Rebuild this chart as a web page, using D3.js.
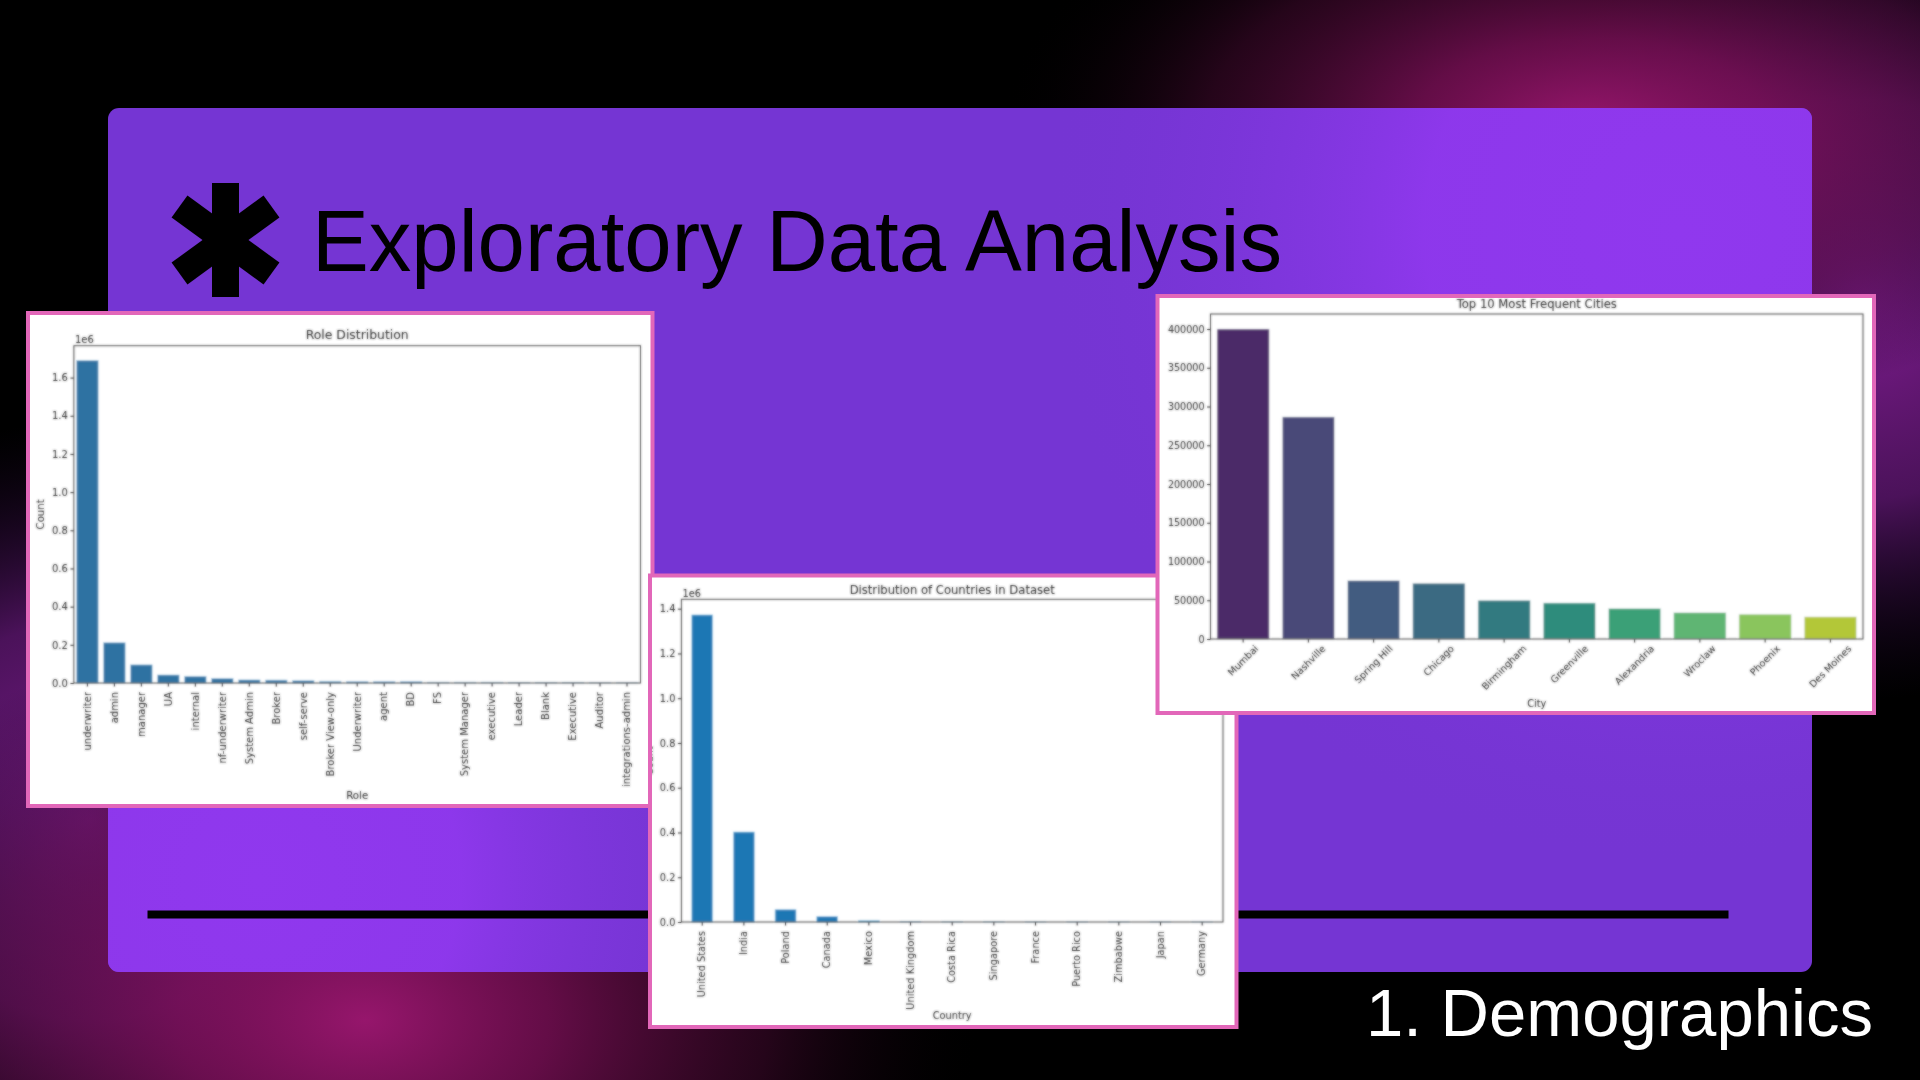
<!DOCTYPE html>
<html><head><meta charset="utf-8">
<script src="https://cdn.jsdelivr.net/npm/d3@7"></script>
<style>html,body{margin:0;padding:0;background:#000;overflow:hidden}svg{display:block}</style>
</head><body><svg id="s" width="1920" height="1080"></svg>
<script>
const roles = ["underwriter","admin","manager","UA","internal","nf-underwriter","System Admin","Broker","self-serve","Broker View-only","Underwriter","agent","BD","FS","System Manager","executive","Leader","Blank","Executive","Auditor","integrations-admin"];
const roleCounts = [1690000,211000,95000,42000,35000,24000,16000,15000,12000,9000,8000,8000,8000,4000,4000,4000,3000,3000,3000,1000,1000];
const countries = ["United States","India","Poland","Canada","Mexico","United Kingdom","Costa Rica","Singapore","France","Puerto Rico","Zimbabwe","Japan","Germany"];
const countryCounts = [1372000,402000,55000,24000,6000,1000,500,400,300,300,200,200,100];
const cities = ["Mumbai","Nashville","Spring Hill","Chicago","Birmingham","Greenville","Alexandria","Wroclaw","Phoenix","Des Moines"];
const cityCounts = [400000,286500,75500,72000,50000,46500,39500,34000,32000,28500];
const cityColors = ["#4B2C67","#4A4A78","#425B80","#3A6B82","#327A80","#2E8C7C","#3AA077","#5EB573","#8AC55D","#B3C737"];
const millionTicks1 = [0,200000,400000,600000,800000,1000000,1200000,1400000,1600000];
const millionTicks2 = [0,200000,400000,600000,800000,1000000,1200000,1400000];
const cityTicks = [0,50000,100000,150000,200000,250000,300000,350000,400000];

const svg = d3.select("#s");
const defs = svg.append("defs");
function radial(id,cx,cy,r,stops,tr){
  const g = defs.append("radialGradient").attr("id",id).attr("gradientUnits","userSpaceOnUse")
    .attr("cx",cx).attr("cy",cy).attr("r",r);
  if(tr) g.attr("gradientTransform",tr);
  stops.forEach(s=>g.append("stop").attr("offset",s[0]).attr("stop-color",s[1]).attr("stop-opacity",s[2]));
}
const mag=[[0,"#96166c",1],[.3,"#7c1058",.8],[.65,"#4a0a34",.5],[1,"#000",0]];
const pur=[[0,"#7e1c8e",1],[.5,"#641878",.75],[1,"#200830",0]];
radial("gPurTR",1860,300,400,pur);
radial("gPurBL",90,820,400,pur);
radial("gMagTR",1590,125,1,mag,"translate(1590 125) scale(590 290) translate(-1590 -125)");
radial("gMagBL",365,1020,1,mag,"translate(365 1020) scale(620 400) translate(-365 -1020)");
const bright=[[0,"#9038ee",1],[.4,"#9038ee",.9],[1,"#7535d3",0]];
radial("gCardTR",1680,230,640,bright);
radial("gCardBL",260,880,500,bright);
const soft = defs.append("filter").attr("id","soft").attr("x","-2%").attr("y","-2%").attr("width","104%").attr("height","104%");
soft.append("feGaussianBlur").attr("in","SourceGraphic").attr("stdDeviation",0.8).attr("result","b");
soft.append("feComposite").attr("in","b").attr("in2","SourceGraphic").attr("operator","arithmetic")
  .attr("k1",0).attr("k2",0.7).attr("k3",0.3).attr("k4",0);

svg.append("rect").attr("width",1920).attr("height",1080).attr("fill","#000");
["gPurTR","gPurBL","gMagTR","gMagBL"].forEach(id=>
  svg.append("rect").attr("width",1920).attr("height",1080).attr("fill",`url(#${id})`));
["#7535d3","url(#gCardTR)","url(#gCardBL)"].forEach(f=>
  svg.append("rect").attr("x",108).attr("y",108).attr("width",1704).attr("height",864).attr("rx",11).attr("fill",f));
svg.append("rect").attr("x",147.5).attr("y",910.5).attr("width",1581).attr("height",8).attr("fill","#000");

// asterisk
const star = svg.append("g").attr("transform","translate(225.5 240)").attr("stroke","#000").attr("stroke-width",27);
[[0,-57,0,57],[-46,-33.5,46,33.5],[-46,33.5,46,-33.5]].forEach(l=>
  star.append("line").attr("x1",l[0]).attr("y1",l[1]).attr("x2",l[2]).attr("y2",l[3]));

svg.append("text").attr("x",312).attr("y",270.5).attr("font-family","Liberation Sans")
  .attr("font-size",86.6).attr("fill","#000").attr("textLength",970).attr("lengthAdjust","spacingAndGlyphs").text("Exploratory Data Analysis");
svg.append("text").attr("x",1366).attr("y",1036).attr("font-family","Liberation Sans")
  .attr("font-size",66.6).attr("fill","#fff").attr("textLength",507).attr("lengthAdjust","spacingAndGlyphs").text("1. Demographics");

const FONT="DejaVu Sans", INK="#222";
function chart(o){
  const root = svg.append("g");
  const [fx0,fy0,fx1,fy1]=o.frame;
  root.append("rect").attr("x",fx0+2).attr("y",fy0+2).attr("width",fx1-fx0-4).attr("height",fy1-fy0-4)
    .attr("fill","#fff").attr("stroke","#E267B9").attr("stroke-width",4);
  const clipId=o.id+"clip";
  defs.append("clipPath").attr("id",clipId).append("rect")
    .attr("x",fx0+4).attr("y",fy0+4).attr("width",fx1-fx0-8).attr("height",fy1-fy0-8);
  const g = root.append("g").attr("clip-path",`url(#${clipId})`).append("g").attr("filter","url(#soft)");
  const [l,t,r,b]=o.axes;
  const x = d3.scaleBand().domain(o.cats).range([l,r]).paddingInner(o.pad).paddingOuter(o.pad/2);
  const y = d3.scaleLinear().domain([0,o.top]).range([b,t]);
  g.selectAll("rect.bar").data(o.vals).join("rect").attr("class","bar")
    .attr("x",(d,i)=>x(o.cats[i])).attr("width",x.bandwidth())
    .attr("y",d=>y(d)).attr("height",d=>b-y(d))
    .attr("fill",(d,i)=>o.colors?o.colors[i]:o.color)
    .attr("stroke",o.edge).attr("stroke-width",.8);
  const ax = g.append("g").attr("transform",`translate(0,${b})`).call(d3.axisBottom(x).tickSize(3.5).tickSizeOuter(0));
  const ay = g.append("g").attr("transform",`translate(${l},0)`).call(d3.axisLeft(y).tickValues(o.ticks).tickFormat(o.fmt).tickSize(3.5).tickSizeOuter(0));
  [ax,ay].forEach(a=>{a.select(".domain").remove();
    a.selectAll("line").attr("stroke",INK).attr("stroke-width",1);
    a.selectAll("text").attr("font-family",FONT).attr("font-size",o.fs).attr("fill",INK);});
  ay.selectAll("text").attr("x",-6);
  if(o.rot===90){
    ax.selectAll("text").attr("transform","rotate(-90)").attr("text-anchor","end").attr("dy","0.33em").attr("x",-o.labTop).attr("y",0);
  } else {
    ax.selectAll("text").each(function(){
      const s=d3.select(this), len=this.getComputedTextLength();
      const off=len*Math.SQRT1_2/2+o.labTop;
      s.attr("text-anchor","middle").attr("dy","0.33em").attr("y",0).attr("x",0)
       .attr("transform",`translate(0,${off}) rotate(-45)`);
    });
  }
  g.append("rect").attr("x",l).attr("y",t).attr("width",r-l).attr("height",b-t)
    .attr("fill","none").attr("stroke","#444").attr("stroke-width",1);
  const lab=(tx,ty,txt,fs,anchor,rot)=>{
    const e=g.append("text").attr("font-family",FONT).attr("font-size",fs).attr("fill",INK)
      .attr("text-anchor",anchor||"middle").attr("dominant-baseline","middle").text(txt);
    e.attr("transform",`translate(${tx},${ty})`+(rot?" rotate(-90)":""));
  };
  lab((l+r)/2,o.titleY,o.title,o.titleFs);
  lab((l+r)/2,o.xLabY,o.xLab,o.labFs);
  if(o.sci) lab(l+1,o.sciY,"1e6",o.fs,"start");
  lab(o.yLabX,(t+b)/2,"Count",o.labFs,"middle",true);
}
chart({id:"a",frame:[26,311,654.5,808],axes:[73.9,345.7,640.5,683],cats:roles,vals:roleCounts,top:1767000,pad:.2,
  color:"#2F72A2",edge:"#b8d2e6",ticks:millionTicks1,fmt:d=>d3.format(".1f")(d/1e6),fs:10,labTop:9,rot:90,
  title:"Role Distribution",titleY:335,titleFs:12.4,xLab:"Role",xLabY:795.5,labFs:10.2,sci:true,sciY:339.5,yLabX:41});
chart({id:"b",frame:[648,573.5,1238.5,1029],axes:[681.4,599.3,1223,922],cats:countries,vals:countryCounts,top:1442000,pad:.5,
  color:"#1F77B4",edge:"#a9cfe9",ticks:millionTicks2,fmt:d=>d3.format(".1f")(d/1e6),fs:9.8,labTop:9,rot:90,
  title:"Distribution of Countries in Dataset",titleY:590,titleFs:11.6,xLab:"Country",xLabY:1016,labFs:9.8,sci:true,sciY:594,yLabX:650});
chart({id:"c",frame:[1155.5,294,1876,715],axes:[1210.5,314,1863,639],cats:cities,vals:cityCounts,top:419355,pad:.2,
  colors:cityColors,edge:"#e4e8ea",ticks:cityTicks,fmt:d3.format("d"),fs:9.6,labTop:8,rot:45,
  title:"Top 10 Most Frequent Cities",titleY:304,titleFs:11.6,xLab:"City",xLabY:703.5,labFs:9.8,sci:false,yLabX:1140});
</script></body></html>
